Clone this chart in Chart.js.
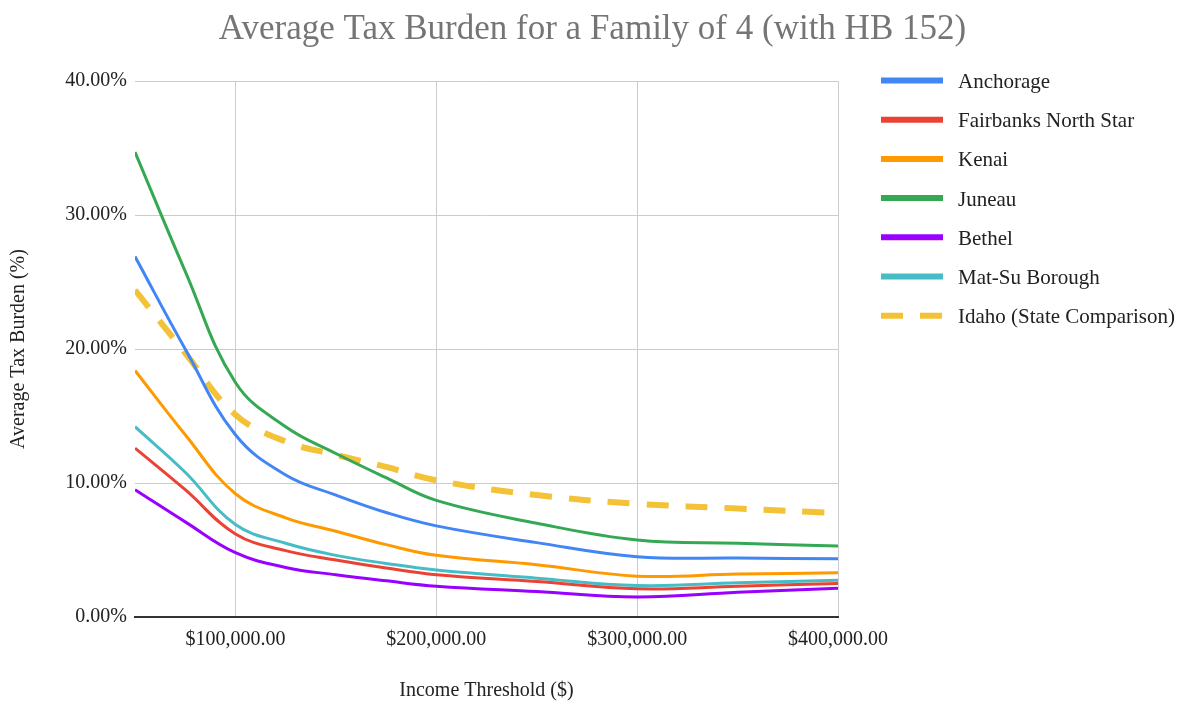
<!DOCTYPE html>
<html>
<head>
<meta charset="utf-8">
<script src="https://cdn.jsdelivr.net/npm/chart.js@4"></script>
<style>
  html, body { margin: 0; padding: 0; background: #fff; }
  #wrap { width: 1185px; height: 704px; }
</style>
</head>
<body>
<div id="wrap"><canvas id="grafico"></canvas></div>
<script>
const titulo = "Average Tax Burden for a Family of 4 (with HB 152)";

// ingresos (eje x)
const ingresos = [50000, 75000, 100000, 125000, 150000, 175000, 200000, 250000, 300000, 350000, 400000];

// carga fiscal promedio (%)
const anchorage = [26.9, 20.0, 13.6, 10.6, 9.1, 7.8, 6.8, 5.55, 4.5, 4.4, 4.35];
const fairbanks = [12.6, 9.5, 6.2, 4.95, 4.25, 3.65, 3.15, 2.65, 2.1, 2.3, 2.5];
const kenai = [18.4, 13.6, 9.2, 7.4, 6.4, 5.4, 4.6, 3.9, 3.05, 3.2, 3.3];
const juneau = [34.7, 25.8, 17.5, 14.2, 12.2, 10.4, 8.7, 7.0, 5.75, 5.5, 5.3];
const bethel = [9.5, 7.1, 4.8, 3.7, 3.15, 2.7, 2.3, 1.9, 1.5, 1.85, 2.15];
const matsu = [14.2, 10.8, 6.9, 5.5, 4.6, 4.0, 3.5, 2.9, 2.35, 2.55, 2.75];
const idaho = [24.4, 19.7, 15.1, 13.1, 12.1, 11.2, 10.2, 9.1, 8.45, 8.1, 7.75];

const ticksX = [100000, 200000, 300000, 400000];
const ticksY = [0, 10, 20, 30, 40];

const fuente = '"Liberation Serif", "Times New Roman", serif';

function serie(label, valores, color, extra) {
  return Object.assign({
    label: label,
    data: valores.map((v, i) => ({ x: ingresos[i], y: v })),
    borderColor: color,
    backgroundColor: color,
    borderWidth: 3,
    pointRadius: 0,
    tension: 0.4,
    fill: false,
  }, extra || {});
}

// titulo y leyenda a la derecha
const extras = {
  id: "extras",
  afterDraw(chart) {
    const ctx = chart.ctx;
    ctx.save();
    ctx.font = "35px " + fuente;
    ctx.fillStyle = "#757575";
    ctx.textAlign = "center";
    ctx.textBaseline = "middle";
    ctx.fillText(titulo, chart.width / 2, 30);

    ctx.textAlign = "left";
    ctx.font = "21px " + fuente;
    chart.data.datasets.forEach((ds, i) => {
      const y = 80.5 + i * 39.2;
      ctx.strokeStyle = ds.borderColor;
      ctx.lineWidth = 6;
      ctx.lineCap = "butt";
      ctx.setLineDash(ds.borderDash || []);
      ctx.beginPath();
      ctx.moveTo(881, y);
      ctx.lineTo(943, y);
      ctx.stroke();
      ctx.fillStyle = "#222";
      ctx.fillText(ds.label, 958, y + 2);
    });
    ctx.restore();
  },
};

new Chart(document.getElementById("grafico"), {
  type: "line",
  data: {
    datasets: [
      serie("Anchorage", anchorage, "#4285F4"),
      serie("Fairbanks North Star", fairbanks, "#EA4335"),
      serie("Kenai", kenai, "#FF9900"),
      serie("Juneau", juneau, "#34A853"),
      serie("Bethel", bethel, "#9900FF"),
      serie("Mat-Su Borough", matsu, "#46BDC6"),
      serie("Idaho (State Comparison)", idaho, "#F3C237", { borderWidth: 6, borderDash: [22, 17] }),
    ],
  },
  options: {
    responsive: true,
    maintainAspectRatio: false,
    animation: false,
    layout: { padding: { top: 81, right: 347, left: 0, bottom: 0 } },
    plugins: {
      legend: { display: false },
      title: { display: false },
      tooltip: { enabled: false },
    },
    scales: {
      x: {
        type: "linear",
        min: 50000,
        max: 400000,
        afterFit: (s) => { s.height = 87; },
        afterBuildTicks: (s) => { s.ticks = ticksX.map((v) => ({ value: v })); },
        grid: { color: "#cccccc", lineWidth: 1, drawTicks: false },
        border: { display: true, color: "#333333", width: 2 },
        ticks: {
          autoSkip: false,
          maxRotation: 0,
          padding: 11,
          color: "#222",
          font: { family: fuente, size: 20 },
          callback: (v) => "$" + v.toLocaleString("en-US", { minimumFractionDigits: 2, maximumFractionDigits: 2 }),
        },
        title: {
          display: true,
          text: "Income Threshold ($)",
          color: "#222",
          font: { family: fuente, size: 20 },
          padding: { top: 0, bottom: 1 },
        },
      },
      y: {
        min: 0,
        max: 40,
        afterFit: (s) => { s.width = 135; },
        afterBuildTicks: (s) => { s.ticks = ticksY.map((v) => ({ value: v })); },
        grid: { color: "#cccccc", lineWidth: 1, drawTicks: false },
        border: { display: false },
        ticks: {
          padding: 8,
          color: "#222",
          font: { family: fuente, size: 20 },
          callback: (v) => v.toFixed(2) + "%",
        },
        title: {
          display: true,
          text: "Average Tax Burden (%)",
          color: "#222",
          font: { family: fuente, size: 20 },
          padding: { top: 7, bottom: 0 },
        },
      },
    },
  },
  plugins: [extras],
});
</script>
</body>
</html>
